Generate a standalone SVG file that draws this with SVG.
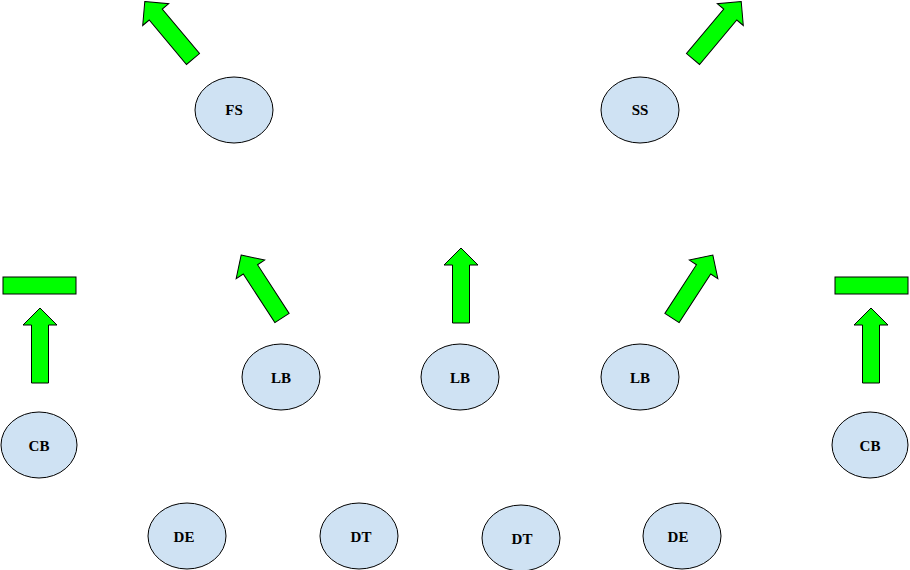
<svg xmlns="http://www.w3.org/2000/svg" width="910" height="570" viewBox="0 0 910 570">
<style>
.n{fill:#cfe2f3;stroke:#000;stroke-width:1}
.t{font-family:"Liberation Serif",serif;font-weight:bold;font-size:15px;text-anchor:middle;dominant-baseline:central}
.a{fill:#00ff00;stroke:#000;stroke-width:1}
</style>
<defs><path id="ar" d="M0,-75 L17,-58 L8.5,-58 L8.5,0 L-8.5,0 L-8.5,-58 L-17,-58 Z"/></defs>
<rect width="910" height="570" fill="#fff"/>
<g id="connectors">
<use href="#ar" class="a" transform="translate(40,383)"/>
<use href="#ar" class="a" transform="translate(871,383)"/>
<use href="#ar" class="a" transform="translate(461,323)"/>
<use href="#ar" class="a" transform="translate(282,318) rotate(-33)"/>
<use href="#ar" class="a" transform="translate(672,318) rotate(33)"/>
<use href="#ar" class="a" transform="translate(193,59) rotate(-40)"/>
<use href="#ar" class="a" transform="translate(693,59) rotate(40)"/>
<rect class="a" x="3" y="277" width="73" height="17"/>
<rect class="a" x="835" y="277" width="73" height="17"/>
</g>
<g id="fs"><ellipse class="n" cx="234" cy="110" rx="39" ry="33"/><text class="t" x="234" y="110">FS</text></g>
<g id="ss"><ellipse class="n" cx="640" cy="110" rx="39" ry="33"/><text class="t" x="640" y="110">SS</text></g>
<g id="lb1"><ellipse class="n" cx="281" cy="377" rx="39" ry="33"/><text class="t" x="281" y="378">LB</text></g>
<g id="lb2"><ellipse class="n" cx="460" cy="377" rx="39" ry="33"/><text class="t" x="460" y="378">LB</text></g>
<g id="lb3"><ellipse class="n" cx="640" cy="377" rx="39" ry="33"/><text class="t" x="640" y="378">LB</text></g>
<g id="cb1"><ellipse class="n" cx="39" cy="445" rx="38" ry="33"/><text class="t" x="39" y="446">CB</text></g>
<g id="cb2"><ellipse class="n" cx="870" cy="445" rx="38" ry="33"/><text class="t" x="870" y="446">CB</text></g>
<g id="de1"><ellipse class="n" cx="187" cy="536" rx="39" ry="33"/><text class="t" x="184" y="537">DE</text></g>
<g id="dt1"><ellipse class="n" cx="359" cy="536" rx="39" ry="33"/><text class="t" x="361" y="537">DT</text></g>
<g id="dt2"><ellipse class="n" cx="521" cy="538" rx="39" ry="33"/><text class="t" x="522" y="539">DT</text></g>
<g id="de2"><ellipse class="n" cx="682" cy="536" rx="39" ry="33"/><text class="t" x="678" y="537">DE</text></g>
</svg>
